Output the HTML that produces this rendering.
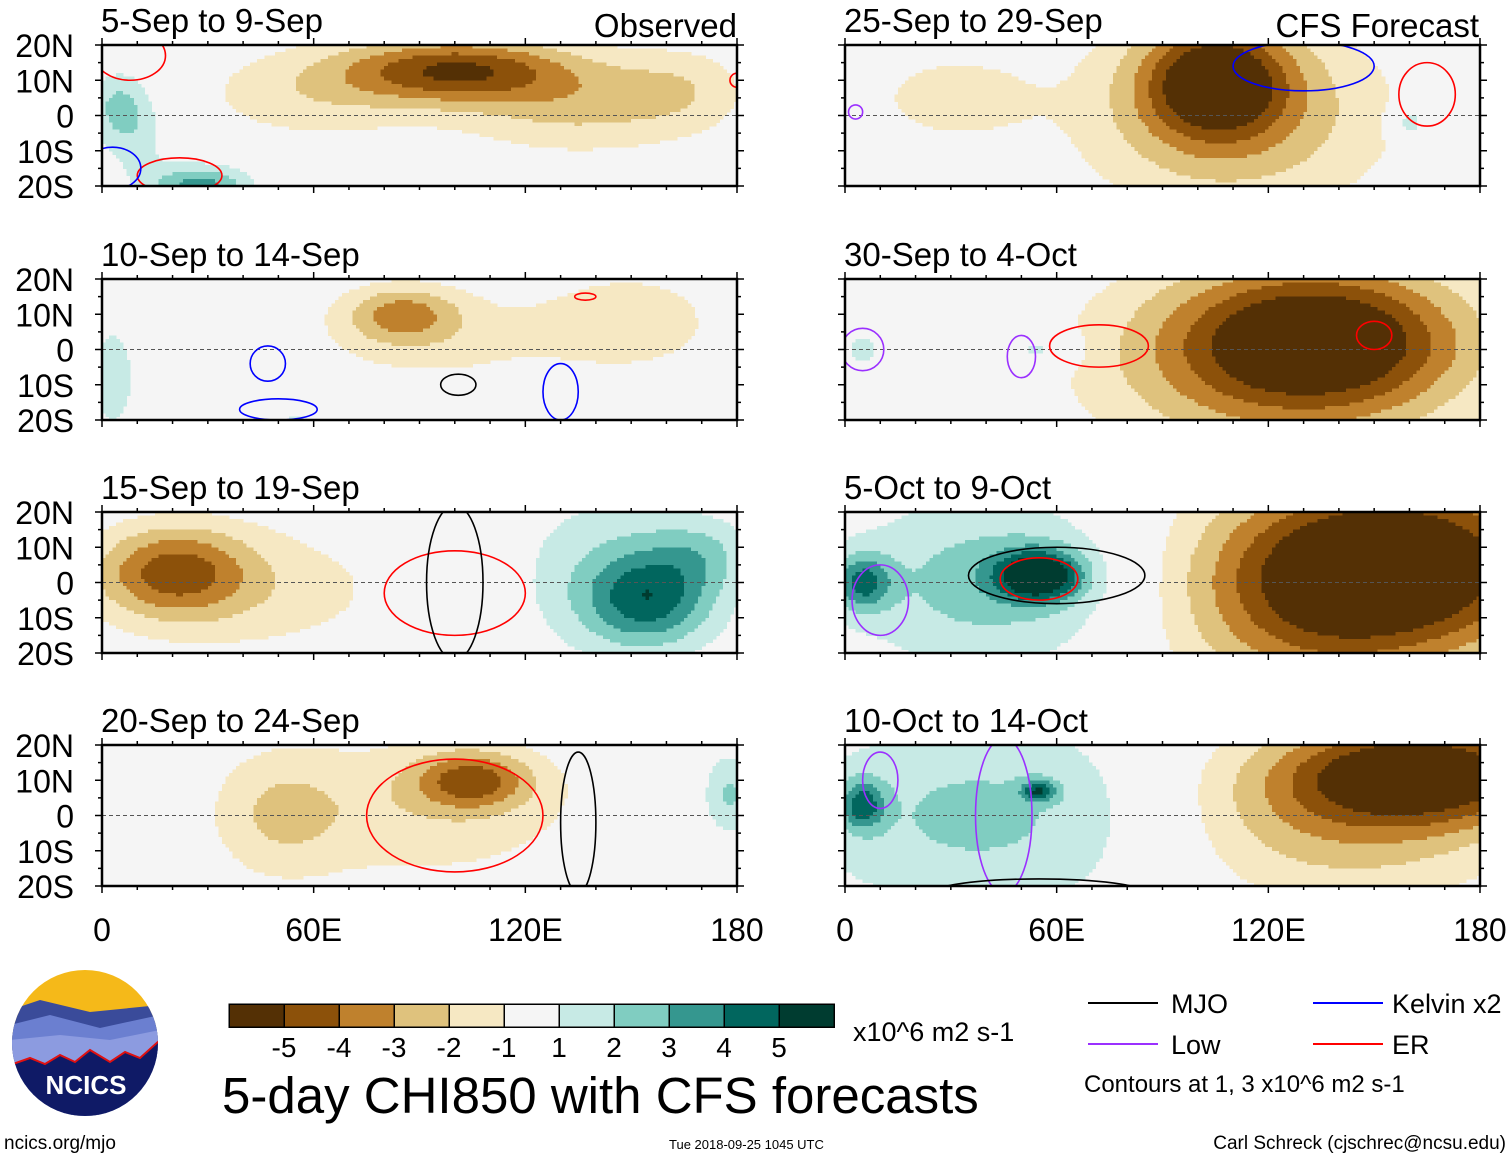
<!DOCTYPE html>
<html><head><meta charset="utf-8"><style>
html,body{margin:0;padding:0;background:#fff;}
svg{display:block;font-family:"Liberation Sans",sans-serif;}
</style></head><body>
<svg id="chart" width="1510" height="1159" viewBox="0 0 1510 1159" xmlns="http://www.w3.org/2000/svg" shape-rendering="crispEdges">
<defs id="defs"></defs>
<g id="panels"></g>
<g id="axes" shape-rendering="auto"></g>
<g id="colorbar"></g>
<g shape-rendering="auto">
 <line x1="1088" y1="1003" x2="1158" y2="1003" stroke="#000" stroke-width="2"/>
 <text x="1171" y="1013" font-size="27">MJO</text>
 <line x1="1088" y1="1044" x2="1158" y2="1044" stroke="#9b30ff" stroke-width="2"/>
 <text x="1171" y="1054" font-size="27">Low</text>
 <line x1="1313" y1="1003" x2="1383" y2="1003" stroke="#0000ff" stroke-width="2"/>
 <text x="1392" y="1013" font-size="27">Kelvin x2</text>
 <line x1="1313" y1="1044" x2="1383" y2="1044" stroke="#ff0000" stroke-width="2"/>
 <text x="1392" y="1054" font-size="27">ER</text>
 <text x="1084" y="1092" font-size="24">Contours at 1, 3 x10^6 m2 s-1</text>
</g>
<g shape-rendering="auto">
 <clipPath id="logoclip"><circle cx="85" cy="1043" r="73"/></clipPath>
 <g clip-path="url(#logoclip)">
  <rect x="10" y="968" width="150" height="150" fill="#f5b919"/>
  <path d="M10 1010 L40 1000 L90 1012 L160 1005 L160 1118 L10 1118Z" fill="#3a4b9a"/>
  <path d="M10 1025 L50 1015 L100 1028 L160 1015 L160 1118 L10 1118Z" fill="#6b7fd0"/>
  <path d="M10 1040 L60 1035 L110 1040 L160 1030 L160 1118 L10 1118Z" fill="#8c9be0"/>
  <path d="M10 1065 L30 1058 L45 1064 L60 1055 L75 1062 L90 1050 L110 1062 L125 1052 L140 1058 L160 1040 L160 1118 L10 1118Z" fill="#0f1a66" stroke="#e01010" stroke-width="2"/>
 </g>
 <text x="86" y="1094" font-size="26" font-weight="bold" fill="#fff" text-anchor="middle">NCICS</text>
</g>
<g shape-rendering="auto">
<text x="222" y="1113" font-size="51">5-day CHI850 with CFS forecasts</text>
<text x="853" y="1041" font-size="27">x10^6 m2 s-1</text>
<text x="4" y="1149" font-size="19">ncics.org/mjo</text>
<text x="669" y="1149" font-size="13">Tue 2018-09-25 1045 UTC</text>
<text x="1506" y="1149" font-size="19" text-anchor="end">Carl Schreck (cjschrec@ncsu.edu)</text>
</g>
</svg>
<script>
const levelColorsNeg = ['#f6e8c3','#dfc27d','#bf812d','#8c510a','#543005'];
const levelColorsPos = ['#c7eae5','#80cdc1','#35978f','#01665e','#003c30'];
const colorbarColors = ['#543005','#8c510a','#bf812d','#dfc27d','#f6e8c3','#f5f5f5','#c7eae5','#80cdc1','#35978f','#01665e','#003c30'];
const colorbarLabels = ['-5','-4','-3','-2','-1','1','2','3','4','5'];
const panelTitles = ['5-Sep to 9-Sep','10-Sep to 14-Sep','15-Sep to 19-Sep','20-Sep to 24-Sep','25-Sep to 29-Sep','30-Sep to 4-Oct','5-Oct to 9-Oct','10-Oct to 14-Oct'];
const latTicks = [20,10,0,-10,-20];
const latLabels = ['20N','10N','0','10S','20S'];
const lonTicks = [0,60,120,180];
const lonLabels = ['0','60E','120E','180'];
// gaussian anomaly components: [lon, lat, rxDeg, ryDeg, amplitude]
const blobs0 = [[100,13,32,9,-4.5],[60,6,35,14,-1.6],[135,3,35,14,-2.2],[165,8,18,12,-1.2],[5,3,9,10,2.2],[28,-20,14,6,3.5],[10,-8,10,12,1.2]];
const blobs1 = [[85,10,16,8,-2.8],[95,3,38,15,-1.3],[150,8,25,14,-1.7],[3,-8,6,14,2],[55,-20,12,4,1.1]];
const blobs2 = [[20,3,22,13,-3.8],[45,-2,45,20,-1.4],[155,-5,18,13,3.5],[145,3,30,25,1.7],[170,8,15,10,1.5]];
const blobs3 = [[105,10,16,8,-3.6],[90,2,50,22,-1.7],[50,0,18,18,-1.5],[178,6,8,12,2.2]];
const blobs4 = [[105,10,20,16,-5],[110,0,45,28,-2.8],[30,5,22,12,-1.6],[160,-2,5,5,2.2]];
const blobs5 = [[135,3,40,20,-5.2],[120,-5,55,30,-2.5],[55,0,10,5,1.8],[5,0,5,5,1.6]];
const blobs6 = [[160,5,45,25,-6],[130,-5,40,30,-3],[55,2,12,7,5.5],[40,0,40,25,2.5],[5,0,8,8,3.5]];
const blobs7 = [[165,12,38,14,-5.5],[140,0,50,25,-2.8],[40,0,55,28,2.3],[5,3,6,7,3.5],[55,7,5,3,3.5]];
const allBlobs = [blobs0,blobs1,blobs2,blobs3,blobs4,blobs5,blobs6,blobs7];
// contours: [lon, lat, rxDeg, ryDeg, color]
const contours = [
 [[22,-17,12,5,'#f00'],[180,10,2,2,'#f00'],[8,17,10,7,'#f00'],[3,-15,8,6,'#00f']],
 [[47,-4,5,5,'#00f'],[50,-17,11,3,'#00f'],[101,-10,5,3,'#000'],[137,15,3,1,'#f00'],[130,-12,5,8,'#00f']],
 [[100,-3,20,12,'#f00'],[100,0,8,22,'#000']],
 [[100,0,25,16,'#f00'],[135,-2,5,20,'#000']],
 [[165,6,8,9,'#f00'],[3,1,2,2,'#9b30ff'],[130,14,20,7,'#00f']],
 [[72,1,14,6,'#f00'],[150,4,5,4,'#f00'],[5,0,6,6,'#9b30ff'],[50,-2,4,6,'#9b30ff']],
 [[55,1,11,6,'#f00'],[60,2,25,8,'#000'],[10,-5,8,10,'#9b30ff']],
 [[45,0,8,22,'#9b30ff'],[10,10,5,8,'#9b30ff'],[55,-22,30,4,'#000']]
];
const NS='http://www.w3.org/2000/svg';
function mk(t,a,p){const e=document.createElementNS(NS,t);for(const k in a)e.setAttribute(k,a[k]);p.appendChild(e);return e;}
function colorFor(v){
  if(v<=-1){const k=Math.min(5,Math.floor(-v));return levelColorsNeg[k-1];}
  if(v>=1){const k=Math.min(5,Math.floor(v));return levelColorsPos[k-1];}
  return '#f5f5f5';
}
const panelsG=document.getElementById('panels'), axesG=document.getElementById('axes'), defs=document.getElementById('defs'), cbG=document.getElementById('colorbar');
const colX=[102,845], rowY=[45,279,512,745], PW=635, PH=141, STEP=1;
allBlobs.forEach((bl,i)=>{
  const x0=colX[Math.floor(i/4)], y0=rowY[i%4];
  const xs=lon=>x0+lon/180*PW, ys=lat=>y0+(20-lat)/40*PH;
  const cp=mk('clipPath',{id:'cp'+i},defs); mk('rect',{x:x0,y:y0,width:PW,height:PH},cp);
  const g=mk('g',{'clip-path':'url(#cp'+i+')'},panelsG);
  
  
  mk('rect',{x:x0,y:y0,width:PW,height:PH,fill:'#f5f5f5'},g);
  const field=(lon,lat)=>{let s=0;bl.forEach(b=>{const dx=(lon-b[0])/b[2],dy=(lat-b[1])/b[3];s+=b[4]*Math.exp(-(dx*dx+dy*dy));});return s;};
  for(let lat=20;lat>-20;lat-=STEP){
    let runStart=0, runCol=null;
    const cy=lat-STEP/2;
    for(let lon=0;lon<=180;lon+=STEP){
      const c = lon<180 ? colorFor(field(lon+STEP/2,cy)) : null;
      if(c!==runCol){
        if(runCol && runCol!=='#f5f5f5'){
          mk('rect',{x:xs(runStart),y:ys(lat),width:xs(lon)-xs(runStart)+0.5,height:ys(lat-STEP)-ys(lat)+0.5,fill:runCol},g);
        }
        runStart=lon; runCol=c;
      }
    }
  }
  mk('line',{x1:x0,y1:ys(0),x2:x0+PW,y2:ys(0),stroke:'#555','stroke-dasharray':'4,3','stroke-width':1},g);
  contours[i].forEach(c=>{
    const e=mk('ellipse',{cx:xs(c[0]),cy:ys(c[1]),rx:c[2]/180*PW,ry:c[3]/40*PH,fill:'none',stroke:c[4],'stroke-width':1.6,'shape-rendering':'auto'},g);
    
    
  });
  const fr=mk('rect',{x:x0,y:y0,width:PW,height:PH,fill:'none',stroke:'#000','stroke-width':2.5},axesG);
  
  
  for(let lon=0;lon<=180;lon+=10){
    const L=lon%60===0?7:4;
    mk('line',{x1:xs(lon),y1:y0,x2:xs(lon),y2:y0-L,stroke:'#000','stroke-width':1.5},axesG);
    mk('line',{x1:xs(lon),y1:y0+PH,x2:xs(lon),y2:y0+PH+L,stroke:'#000','stroke-width':1.5},axesG);
  }
  for(let lat=-20;lat<=20;lat+=5){
    const L=lat%10===0?7:4;
    mk('line',{x1:x0,y1:ys(lat),x2:x0-L,y2:ys(lat),stroke:'#000','stroke-width':1.5},axesG);
    mk('line',{x1:x0+PW,y1:ys(lat),x2:x0+PW+L,y2:ys(lat),stroke:'#000','stroke-width':1.5},axesG);
  }
  const t=mk('text',{x:x0-1,y:y0-13,'font-size':33},axesG); t.textContent=panelTitles[i];
  
  
  latTicks.forEach((lat,j)=>{
    const tt=mk('text',{x:x0-28,y:ys(lat)+12,'font-size':32,'text-anchor':'end'},axesG);
    if(i>=4){tt.setAttribute('visibility','hidden');}
    tt.textContent=latLabels[j];
    
    
  });
  if(i%4===3){
    lonTicks.forEach((lon,j)=>{
      const tt=mk('text',{x:xs(lon),y:y0+PH+55,'font-size':32,'text-anchor':'middle'},axesG);
      tt.textContent=lonLabels[j];
      
      
    });
  }
});
[['Observed',737],['CFS Forecast',1479]].forEach(a=>{
  const t=mk('text',{x:a[1],y:37,'font-size':33,'text-anchor':'end'},axesG);t.textContent=a[0];
  
  
});
const cbx=229, cbw=55, cby=1004, cbh=23;
colorbarColors.forEach((c,i)=>{
  const r=mk('rect',{x:cbx+i*cbw,y:cby,width:cbw,height:cbh,fill:c,stroke:'#000','stroke-width':1.5},cbG);
  
  
});
colorbarLabels.forEach((l,i)=>{
  const t=mk('text',{x:cbx+(i+1)*cbw,y:1057,'font-size':28,'text-anchor':'middle','shape-rendering':'auto'},cbG);t.textContent=l;
  
  
});
</script>
</body></html>
